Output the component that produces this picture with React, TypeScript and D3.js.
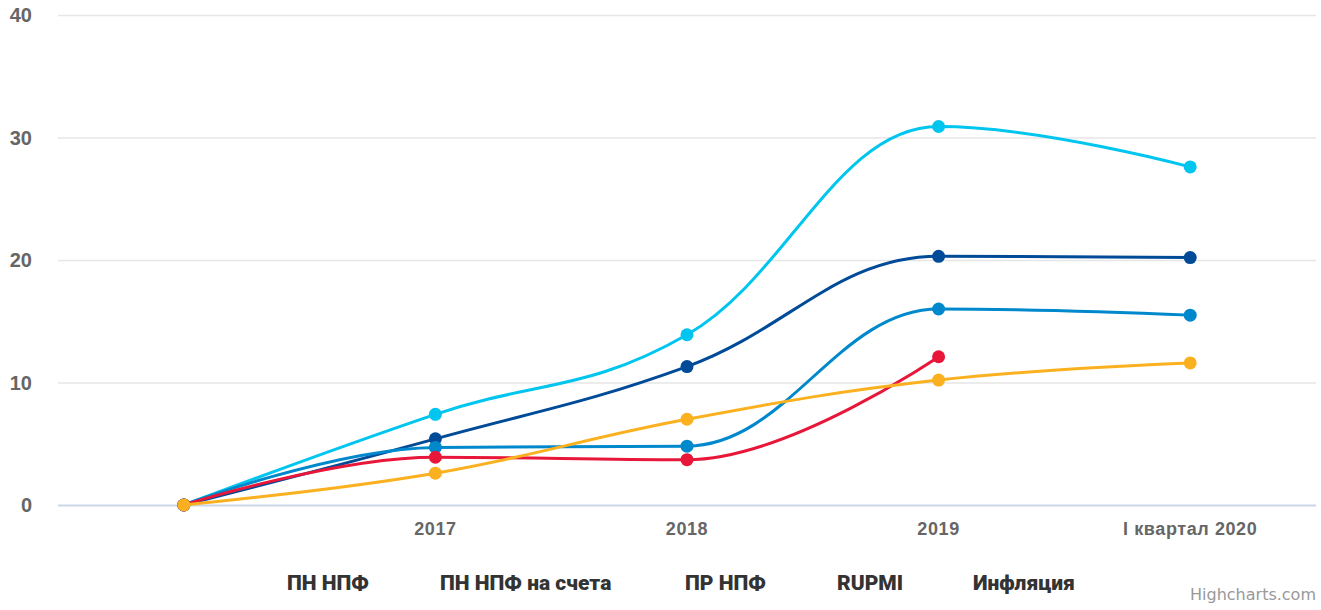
import React from 'react';
import * as d3 from 'd3';

const categories = ['', '2017', '2018', '2019', 'I квартал 2020'];
const yTicks = [0, 10, 20, 30, 40];

interface Series {
  name: string;
  color: string;
  values: (number | null)[];
}

const pnNpf: (number | null)[] = [0, 7.4, 13.9, 30.9, 27.6];
const pnNpfAccounts: (number | null)[] = [0, 5.4, 11.3, 20.3, 20.2];
const prNpf: (number | null)[] = [0, 4.7, 4.8, 16.0, 15.5];
const rupmi: (number | null)[] = [0, 3.9, 3.7, 12.1, null];
const inflation: (number | null)[] = [0, 2.6, 7.0, 10.2, 11.6];

const series: Series[] = [
  { name: 'ПН НПФ', color: '#00c6ef', values: pnNpf },
  { name: 'ПН НПФ на счета', color: '#004b98', values: pnNpfAccounts },
  { name: 'ПР НПФ', color: '#0088cc', values: prNpf },
  { name: 'RUPMI', color: '#e8173a', values: rupmi },
  { name: 'Инфляция', color: '#fbb11f', values: inflation },
];

const W = 1321;
const H = 610;
const plot = { left: 58, right: 1316, top: 15, bottom: 505 };

// Highcharts-like spline path
function splinePath(pts: [number, number][]): string {
  if (!pts.length) return '';
  const sm = 1.5;
  const den = sm + 1;
  let d = `M${pts[0][0]},${pts[0][1]}`;
  let lastRight: [number, number] | null = null;
  for (let i = 1; i < pts.length; i++) {
    const [px, py] = pts[i];
    const [lx, ly] = pts[i - 1];
    const next = pts[i + 1];
    let leftX = px, leftY = py;
    let right: [number, number] | null = null;
    if (next) {
      const [nx, ny] = next;
      leftX = (sm * px + lx) / den;
      leftY = (sm * py + ly) / den;
      let rX = (sm * px + nx) / den;
      let rY = (sm * py + ny) / den;
      let corr = 0;
      if (rX !== leftX) corr = ((rY - leftY) * (rX - px)) / (rX - leftX) + py - rY;
      leftY += corr;
      rY += corr;
      if (leftY > ly && leftY > py) { leftY = Math.max(ly, py); rY = 2 * py - leftY; }
      else if (leftY < ly && leftY < py) { leftY = Math.min(ly, py); rY = 2 * py - leftY; }
      if (rY > ny && rY > py) { rY = Math.max(ny, py); leftY = 2 * py - rY; }
      else if (rY < ny && rY < py) { rY = Math.min(ny, py); leftY = 2 * py - rY; }
      right = [rX, rY];
    }
    const c1 = lastRight || [lx, ly];
    d += `C${c1[0]},${c1[1]} ${leftX},${leftY} ${px},${py}`;
    lastRight = right;
  }
  return d;
}

export default function App() {
  const x = d3
    .scaleBand<string>()
    .domain(categories.map((c, i) => String(i)))
    .range([plot.left, plot.right]);
  const cx = (i: number) => (x(String(i)) as number) + x.bandwidth() / 2;
  const y = d3.scaleLinear().domain([0, 40]).range([plot.bottom, plot.top]);

  const legendX = [287, 440, 685, 837, 973];

  return (
    <svg
      width={W}
      height={H}
      style={{ position: 'absolute', left: 0, top: 0, background: '#fff' }}
    >
      {yTicks.map((t) => (
        <g key={t}>
          <line
            x1={plot.left}
            x2={plot.right}
            y1={y(t) + 0.5}
            y2={y(t) + 0.5}
            stroke={t === 0 ? '#ccd6eb' : '#e6e6e6'}
            strokeWidth={t === 0 ? 2 : 1.5}
          />
          <text
            x={32}
            y={y(t)}
            dy="0.35em"
            textAnchor="end"
            fill="#666"
            style={{ font: 'bold 20px "Liberation Sans", Arial, sans-serif' }}
          >
            {t}
          </text>
        </g>
      ))}
      {categories.map((c, i) => (
        <text
          key={i}
          x={cx(i)}
          y={529}
          dy="0.35em"
          textAnchor="middle"
          fill="#666"
          style={{ font: 'bold 18px "Liberation Sans", Arial, sans-serif', letterSpacing: '0.6px' }}
        >
          {c}
        </text>
      ))}
      {series.map((s) => {
        const pts: [number, number][] = [];
        s.values.forEach((v, i) => {
          if (v !== null) pts.push([cx(i), y(v)]);
        });
        return (
          <g key={s.name}>
            <path d={splinePath(pts)} fill="none" stroke={s.color} strokeWidth={3} strokeLinecap="round" />
            {pts.map((p, i) => (
              <circle key={i} cx={p[0]} cy={p[1]} r={6.5} fill={s.color} />
            ))}
          </g>
        );
      })}
      {series.map((s, i) => (
        <text
          key={s.name}
          x={legendX[i]}
          y={583}
          dy="0.35em"
          fill="#333"
          style={{ font: '900 21px Roboto, "Liberation Sans", sans-serif' }}
        >
          {s.name}
        </text>
      ))}
      <text
        x={1316}
        y={600}
        textAnchor="end"
        fill="#999"
        style={{ font: '16px "DejaVu Sans", sans-serif' }}
      >
        Highcharts.com
      </text>
    </svg>
  );
}
